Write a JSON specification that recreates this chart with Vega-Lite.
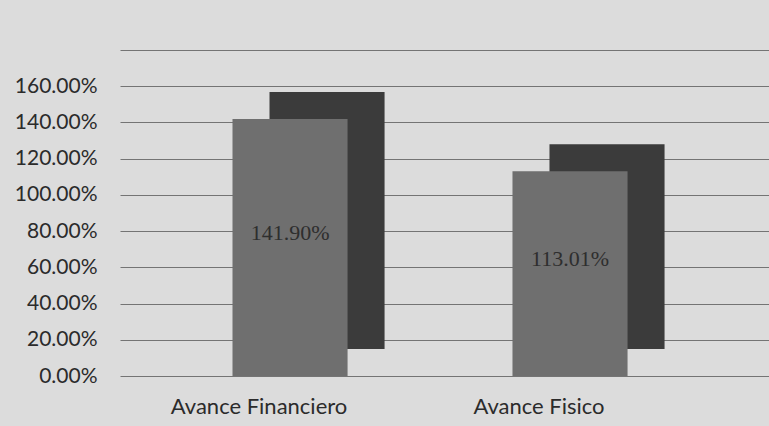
{
  "$schema": "https://vega.github.io/schema/vega-lite/v6.json",
  "autosize": {"type": "none"},
  "width": 649,
  "height": 326,
  "padding": {"left": 120, "top": 50, "right": 0, "bottom": 50},
  "background": "#dcdcdc",
  "config": {"view": {"stroke": null}},
  "data": {"values": [
    {"categoria": "Avance Financiero", "avance": 1.419},
    {"categoria": "Avance Fisico", "avance": 1.1301}
  ]},
  "encoding": {
    "x": {
      "field": "categoria", "type": "nominal", "sort": null, "title": null,
      "scale": {"paddingInner": 0.589, "paddingOuter": 0.4535, "align": 0.443},
      "axis": {"labelAngle": 0, "labelFont": "Lato", "labelFontSize": 22, "labelColor": "#2b2b2b",
               "labelPadding": 20, "labelOffset": -31, "ticks": false, "domain": false, "grid": false}
    }
  },
  "layer": [
    {
      "encoding": {
        "y": {
          "field": "avance", "type": "quantitative", "title": null,
          "scale": {"domain": [0, 1.8], "nice": false},
          "axis": {"values": [0, 0.2, 0.4, 0.6, 0.8, 1.0, 1.2, 1.4, 1.6, 1.8],
                   "labelExpr": "datum.value > 1.7 ? '' : format(datum.value, '.2%')",
                   "labelOverlap": false,
                   "labelFont": "Lato", "labelFontSize": 21, "labelColor": "#2b2b2b",
                   "labelPadding": 23, "ticks": false, "domain": false,
                   "gridColor": "#5a5a5a", "gridWidth": 1, "gridOpacity": 0.8}
        }
      },
      "layer": [
        {"mark": {"type": "bar", "color": "#3b3b3b", "xOffset": 37, "yOffset": -27}},
        {"mark": {"type": "bar", "color": "#6f6f6f"}}
      ]
    },
    {
      "mark": {"type": "text", "font": "Liberation Serif", "fontSize": 22, "color": "#2e2e2e", "baseline": "middle", "dy": -15},
      "encoding": {
        "y": {"field": "avance", "type": "quantitative", "scale": {"domain": [0, 3.6], "nice": false}, "axis": null},
        "text": {"field": "avance", "type": "quantitative", "format": ".2%"}
      }
    }
  ],
  "resolve": {"scale": {"y": "independent"}}
}
